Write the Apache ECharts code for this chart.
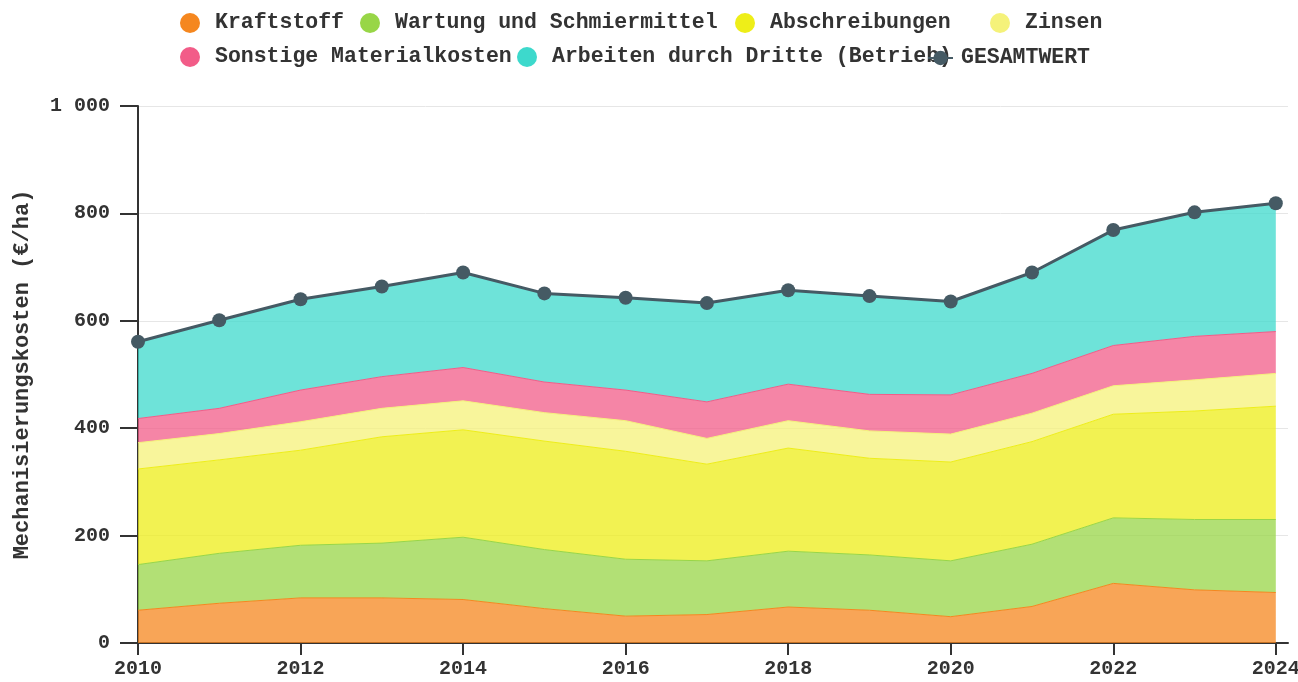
<!DOCTYPE html>
<html>
<head>
<meta charset="utf-8">
<script src="https://cdn.jsdelivr.net/npm/echarts@6/dist/echarts.min.js"></script>
<style>html,body{margin:0;padding:0;background:#fff}#c{width:1298px;height:682px}</style>
</head>
<body>
<div id="c"></div>
<script>
const years = [2010,2011,2012,2013,2014,2015,2016,2017,2018,2019,2020,2021,2022,2023,2024];
const kraftstoff = [61,74,84,84,81,64,50,53,67,61,49,68,111,99,94];
const wartung = [85,93,98,102,116,110,106,100,104,103,104,116,122,131,136];
const abschreibungen = [178,174,177,198,200,202,201,180,192,180,184,191,193,202,211];
const zinsen = [49,49,53,53,54,53,57,48,51,51,52,53,53,58,61];
const sonstige = [45,47,59,59,62,57,57,68,68,68,73,74,75,81,78];
const arbeiten = [143,164,169,168,177,165,172,184,175,183,174,188,215,231,239];
const gesamt = [561,601,640,664,690,651,643,633,657,646,636,690,769,802,819];
const xTicks = [2010,2012,2014,2016,2018,2020,2022,2024];

const FONT = '"Liberation Mono", "DejaVu Sans Mono", monospace';
const names = ['Kraftstoff','Wartung und Schmiermittel','Abschreibungen','Zinsen','Sonstige Materialkosten','Arbeiten durch Dritte (Betrieb)','GESAMTWERT'];
const colors = ['#f5871f','#98d647','#eeee18','#f5f27a','#f25c88','#3dd9cc'];
const stacks = [kraftstoff, wartung, abschreibungen, zinsen, sonstige, arbeiten];

// value first, year second: the value column becomes the stacked dimension
const rows = arr => years.map((y,i)=>[arr[i], y]);

const series = stacks.map((arr,i)=>({
  name: names[i], type:'line', stack:'total', data: rows(arr),
  encode:{x:1, y:0},
  showSymbol:false, symbol:'circle',
  lineStyle:{width:1, color:colors[i]},
  itemStyle:{color:colors[i]},
  areaStyle:{color:colors[i], opacity:0.75},
  emphasis:{disabled:true}
}));
series.push({
  name: names[6], type:'line', data: rows(gesamt), encode:{x:1, y:0}, z:10,
  symbol:'circle', symbolSize:14,
  lineStyle:{width:3, color:'#455a64'},
  itemStyle:{color:'#455a64'},
  emphasis:{disabled:true}
});

const legendPos = [
  [175,7],[355,7],[730,7],[985,7],
  [175,41],[512,41],[922,42]
];
const legends = names.map((n,i)=>({
  data:[n], left: legendPos[i][0], top: legendPos[i][1],
  itemWidth: i===6 ? 25 : 20, itemHeight: i===6 ? 18 : 20,
  icon: i===6 ? undefined : 'circle',
  selectedMode:false,
  textStyle:{fontFamily:FONT, fontSize:21.5, fontWeight:'bold', color:'#333', padding:[0,0,0, i===6 ? 3 : 10]}
}));

const chart = echarts.init(document.getElementById('c'), null, {renderer:'canvas'});
chart.setOption({
  animation:false,
  backgroundColor:'#fff',
  legend: legends,
  grid:{left:138, right:10, top:106, bottom:39, containLabel:false, outerBoundsMode:'none'},
  xAxis:{
    type:'value', min:2010, max:2024.15, interval:2,
    axisLine:{lineStyle:{color:'#333', width:2}},
    axisTick:{length:12, lineStyle:{color:'#333', width:2}, customValues: xTicks},
    axisLabel:{customValues: xTicks, margin:16, fontFamily:FONT, fontSize:20, fontWeight:'bold', color:'#333', formatter: v=>String(v)},
    splitLine:{show:false}
  },
  yAxis:{
    type:'value', min:0, max:1000, interval:200,
    name:'Mechanisierungskosten (€/ha)', nameLocation:'middle', nameGap:105,
    nameTextStyle:{fontFamily:FONT, fontSize:22, fontWeight:'bold', color:'#333'},
    axisLine:{show:true, lineStyle:{color:'#333', width:2}},
    axisTick:{show:true, length:18, lineStyle:{color:'#333', width:2}},
    axisLabel:{margin:28, fontFamily:FONT, fontSize:20, fontWeight:'bold', color:'#333',
      formatter: v => String(v).replace(/\B(?=(\d{3})+(?!\d))/g,' ')},
    splitLine:{show:true, lineStyle:{color:'#e6e6e6', width:1}}
  },
  series: series
});
</script>
</body>
</html>
